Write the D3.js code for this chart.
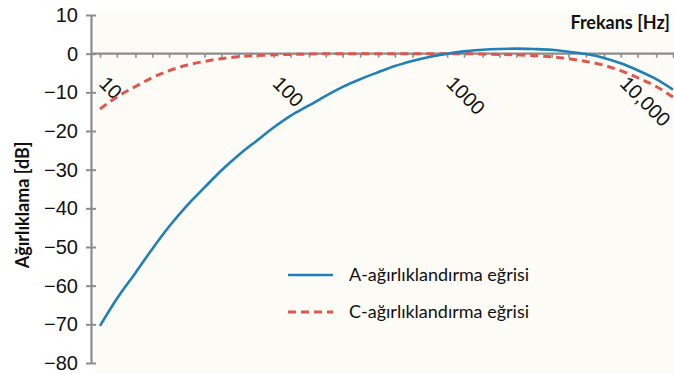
<!DOCTYPE html>
<html>
<head>
<meta charset="utf-8">
<script src="https://cdn.jsdelivr.net/npm/d3@7"></script>
<style>
  html, body { margin: 0; padding: 0; background: #ffffff; }
  svg { display: block; }
</style>
</head>
<body>
<svg id="chart" width="674" height="374"></svg>
<script>
// Third-octave band centre frequencies (Hz)
const frequencies = [10, 12.5, 16, 20, 25, 31.5, 40, 50, 63, 80,
  100, 125, 160, 200, 250, 315, 400, 500, 630, 800,
  1000, 1250, 1600, 2000, 2500, 3150, 4000, 5000, 6300, 8000,
  10000, 12500, 16000, 20000];

// A-weighting (dB)
const aWeighting = [-70.4, -63.4, -56.7, -50.5, -44.7, -39.4, -34.6, -30.2, -26.2, -22.5,
  -19.1, -16.1, -13.4, -10.9, -8.6, -6.6, -4.8, -3.2, -1.9, -0.8,
  0.0, 0.6, 1.0, 1.2, 1.3, 1.2, 1.0, 0.5, -0.1, -1.1,
  -2.5, -4.3, -6.6, -9.3];

// C-weighting (dB)
const cWeighting = [-14.3, -11.2, -8.5, -6.2, -4.4, -3.0, -2.0, -1.3, -0.8, -0.5,
  -0.3, -0.2, -0.1, 0.0, 0.0, 0.0, 0.0, 0.0, 0.0, 0.0,
  0.0, 0.0, -0.1, -0.2, -0.3, -0.5, -0.8, -1.3, -2.0, -3.0,
  -4.4, -6.2, -8.5, -11.2];

const xLabelValues = [10, 100, 1000, 10000];
const xLabelTexts = ["10", "100", "1000", "10,000"];
const yTicks = [10, 0, -10, -20, -30, -40, -50, -60, -70, -80];

const seriesNames = ["A-ağırlıklandırma eğrisi", "C-ağırlıklandırma eğrisi"];

const svg = d3.select("#chart");
const axisColor = "#8c8c8c";
const blue = "#1f7fb6";
const red = "#e0554e";
const numFont = "'Liberation Sans', Arial, sans-serif";
const textFont = "Lato, 'Open Sans', sans-serif";

svg.append("rect")
  .attr("x", 95).attr("y", 13).attr("width", 579).attr("height", 361)
  .attr("fill", "#fcfbf6");

const x = d3.scaleLog().domain([10, 20000]).range([100, 673]);
const y = d3.scaleLinear().domain([-80, 10]).range([363, 15]);
const axisX = 91;

// Vertical axis
const yAxis = d3.axisLeft(y)
  .tickValues(yTicks)
  .tickSize(0)
  .tickFormat(d => d < 0 ? "\u2212" + Math.abs(d) : String(d));

const gy = svg.append("g")
  .attr("transform", `translate(${axisX},0)`)
  .call(yAxis);
gy.select(".domain").attr("stroke", axisColor).attr("stroke-width", 2.2);
gy.selectAll(".tick text")
  .attr("x", -13)
  .attr("fill", "#111")
  .style("font-family", numFont)
  .style("font-size", "20px");
gy.selectAll(".tick").append("line")
  .attr("x1", -5).attr("x2", 5)
  .attr("stroke", axisColor).attr("stroke-width", 2);

// Horizontal axis along 0 dB
const y0 = y(0);
svg.append("line")
  .attr("x1", axisX).attr("x2", 674)
  .attr("y1", y0).attr("y2", y0)
  .attr("stroke", axisColor).attr("stroke-width", 2.2);

const xAxis = d3.axisBottom(x)
  .tickValues(frequencies)
  .tickSize(4)
  .tickFormat("");
const gx = svg.append("g")
  .attr("transform", `translate(0,${y0})`)
  .call(xAxis);
gx.select(".domain").remove();
gx.selectAll(".tick line").attr("stroke", axisColor).attr("stroke-width", 1.6);

// Rotated frequency labels
svg.append("g").selectAll("text")
  .data(xLabelValues)
  .join("text")
  .attr("transform", d => `translate(${x(d) - 2},${y0 + 31}) rotate(45)`)
  .attr("text-anchor", "start")
  .attr("fill", "#111")
  .style("font-family", numFont)
  .style("font-size", "20px")
  .text((d, i) => xLabelTexts[i]);

// Curves
const line = d3.line()
  .x((d, i) => x(frequencies[i]))
  .y(d => y(d))
  .curve(d3.curveMonotoneX);

svg.append("path")
  .datum(cWeighting)
  .attr("d", line)
  .attr("fill", "none")
  .attr("stroke", red)
  .attr("stroke-width", 3)
  .attr("stroke-dasharray", "8,5");

svg.append("path")
  .datum(aWeighting)
  .attr("d", line)
  .attr("fill", "none")
  .attr("stroke", blue)
  .attr("stroke-width", 2.6);

// Axis titles
svg.append("text")
  .attr("transform", "translate(29,205) rotate(-90)")
  .attr("text-anchor", "middle")
  .attr("fill", "#111")
  .style("font-family", textFont)
  .style("font-weight", "700")
  .style("font-size", "18px")
  .text("Ağırlıklama [dB]");

svg.append("text")
  .attr("x", 670).attr("y", 29)
  .attr("text-anchor", "end")
  .attr("fill", "#111")
  .style("font-family", textFont)
  .style("font-weight", "700")
  .style("font-size", "18px")
  .text("Frekans [Hz]");

// Legend
const legend = svg.append("g");
const legendRows = [
  { name: seriesNames[0], color: blue, dash: null, width: 2.6, yPos: 275 },
  { name: seriesNames[1], color: red, dash: "8,5", width: 3, yPos: 312 }
];
legendRows.forEach(r => {
  legend.append("line")
    .attr("x1", 288).attr("x2", 333)
    .attr("y1", r.yPos).attr("y2", r.yPos)
    .attr("stroke", r.color)
    .attr("stroke-width", r.width)
    .attr("stroke-dasharray", r.dash);
  legend.append("text")
    .attr("x", 349).attr("y", r.yPos)
    .attr("dy", "0.35em")
    .attr("fill", "#111")
    .style("font-family", textFont)
    .style("font-size", "18px")
    .text(r.name);
});
</script>
</body>
</html>
